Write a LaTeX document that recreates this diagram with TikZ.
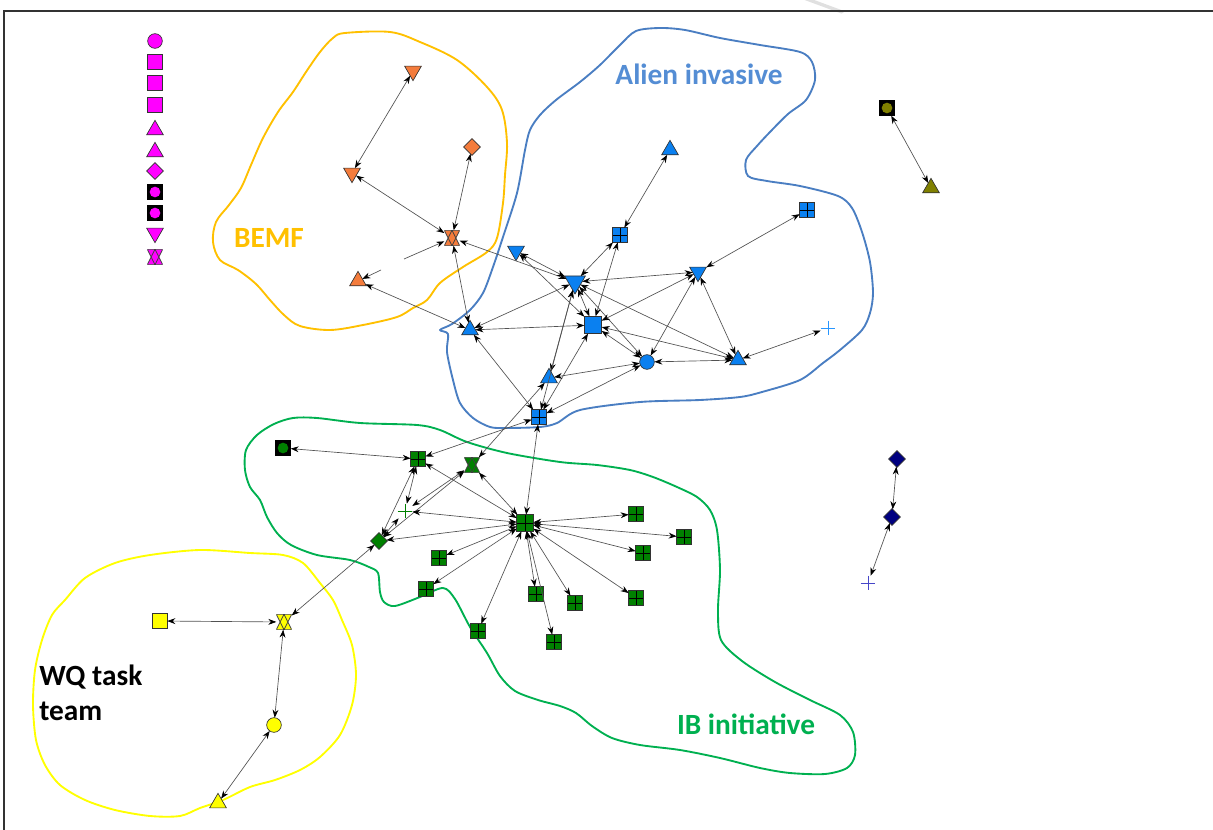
\documentclass[tikz,border=0pt]{standalone}
\usepackage{fontspec}
\setmainfont{Carlito}
\usetikzlibrary{shapes.geometric,arrows.meta}

\definecolor{cMag}{RGB}{255,0,255}
\definecolor{cOrg}{RGB}{244,124,60}
\definecolor{cBlu}{RGB}{10,128,240}
\definecolor{cLtBlu}{RGB}{40,150,255}
\definecolor{cGrn}{RGB}{0,128,0}
\definecolor{cYel}{RGB}{255,255,0}
\definecolor{cOlv}{RGB}{128,128,0}
\definecolor{cNav}{RGB}{0,0,128}
\definecolor{cNavPlus}{RGB}{70,70,200}
\definecolor{hOrg}{RGB}{255,192,0}
\definecolor{hBlu}{RGB}{74,126,194}
\definecolor{tBlu}{RGB}{84,141,212}
\definecolor{hGrn}{RGB}{0,176,80}
\definecolor{hYel}{RGB}{255,255,0}

\begin{document}
\begin{tikzpicture}[x=0.75pt,y=-0.75pt,
  nd/.style={inner sep=0pt, outer sep=0pt, draw=black!80, line width=0.5pt},
  sq/.style={nd, rectangle, minimum size=11pt, fill=#1},
  bigsq/.style={nd, rectangle, minimum size=13pt, fill=#1},
  gsq/.style={nd, rectangle, minimum size=11pt, fill=#1,
    path picture={\draw[black, line width=0.6pt]
      (path picture bounding box.north) -- (path picture bounding box.south)
      (path picture bounding box.west) -- (path picture bounding box.east);}},
  biggsq/.style={gsq=#1, minimum size=12.5pt},
  circ/.style={nd, circle, minimum size=11pt, fill=#1},
  tri/.style={nd, regular polygon, regular polygon sides=3, minimum size=14.5pt, fill=#1},
  vtri/.style={tri=#1, shape border rotate=180},
  bigvtri/.style={vtri=#1, minimum size=18pt},
  dia/.style={nd, diamond, minimum size=12.5pt, fill=#1},
  boxc/.style={rectangle, inner sep=0pt, outer sep=0pt, minimum size=11.5pt, fill=black,
    path picture={\fill[#1] (path picture bounding box.center) circle (4pt);}},
  hglass/.style={rectangle, inner sep=0pt, outer sep=0pt, minimum size=11.5pt,
    path picture={
      \fill[#1] (path picture bounding box.north west) -- (path picture bounding box.north east)
        -- (path picture bounding box.south) -- cycle;
      \fill[#1] (path picture bounding box.south west) -- (path picture bounding box.south east)
        -- (path picture bounding box.north) -- cycle;
      \draw[black!75, line width=0.6pt]
        (path picture bounding box.north west) -- (path picture bounding box.north east)
        -- (path picture bounding box.south) -- cycle
        (path picture bounding box.south west) -- (path picture bounding box.south east)
        -- (path picture bounding box.north) -- cycle;}},
  plusmk/.style={rectangle, inner sep=0pt, outer sep=0pt, minimum size=11pt,
    path picture={\draw[#1, line width=0.7pt]
      (path picture bounding box.north) -- (path picture bounding box.south)
      (path picture bounding box.west) -- (path picture bounding box.east);}},
  lk/.style={draw=black!68, line width=0.5pt,
    {Stealth[length=6pt,width=4.4pt,black]}-{Stealth[length=6pt,width=4.4pt,black]}},
  stub/.style={draw=black!68, line width=0.5pt, -{Stealth[length=6pt,width=4.4pt,black]}},
  hull/.style={line width=1.4pt, line join=round},
  grp/.style={font=\fontsize{22pt}{26pt}\selectfont\bfseries, inner sep=0pt}
]
\useasboundingbox (0,0) rectangle (1213,830);

% frame edges and the faint mark above them
\draw[black!12, line width=2.5pt, line cap=round] (804,-2) -- (842,12);
\draw[black!80, line width=1.1pt] (4,830) -- (4,11) -- (1213,11);

% ---------- group outlines ----------
\draw[hull, hOrg] plot[smooth cycle, tension=0.55] coordinates {
  (345,33) (390,32) (420,42) (457,60) (487,87) (502,110) (507,143) (505,175)
  (503,203) (497,238) (487,252) (463,267) (440,283) (427,300) (413,308)
  (397,317) (363,325) (330,330) (300,326) (284,315) (270,300) (256,284)
  (238,270) (220,260) (213,242) (216,222) (229,205) (241,188) (251,165)
  (263,138) (278,112) (293,92) (306,72) (320,52) (333,38)};

\draw[hull, hBlu] plot[smooth cycle, tension=0.5] coordinates {
  (525,150) (517,193) (503,237) (493,267) (483,293) (470,310) (452,324)
  (440,330) (448,334) (447,352) (453,380) (460,403) (473,418) (490,427)
  (507,428) (540,427) (557,423) (580,410) (640,402) (700,400) (740,397)
  (762,392) (800,380) (823,363) (840,350) (862,330) (870,313) (873,293)
  (870,262) (862,232) (852,208) (838,196) (800,186) (767,181) (748,176)
  (746,160) (757,146) (770,132) (788,114) (806,100) (815,80) (812,62)
  (800,52) (760,45) (720,38) (685,30) (660,28) (636,31) (620,45) (600,65)
  (580,82) (556,100) (540,115) (530,130)};

\draw[hull, hGrn] plot[smooth cycle, tension=0.5] coordinates {
  (293,418) (317,418) (360,423) (417,425) (440,430) (467,442) (507,453)
  (560,462) (597,465) (630,470) (653,477) (677,487) (697,497) (710,510)
  (717,530) (720,570) (718,610) (721,640) (742,661) (775,682) (810,700)
  (840,715) (853,732) (855,755) (847,768) (825,774) (790,773) (760,768)
  (720,758) (680,750) (640,745) (612,738) (592,726) (576,713) (560,706)
  (538,700) (515,691) (500,676) (487,653) (470,627) (455,599) (443,588)
  (420,597) (395,606) (384,602) (380,592) (378,573) (369,567) (350,560)
  (317,555) (291,545) (277,533) (267,517) (260,500) (250,487) (245,470)
  (246,450) (257,435) (274,424)};

\draw[hull, hYel] plot[smooth cycle, tension=0.5] coordinates {
  (65,600) (85,578) (115,563) (150,555) (200,550) (250,553) (283,555)
  (303,563) (320,583) (333,600) (342,620) (352,645) (356,675) (352,705)
  (340,735) (320,757) (300,770) (275,780) (250,787) (223,800) (200,808)
  (180,816) (150,816) (115,810) (85,800) (60,785) (45,765) (36,740)
  (33,705) (35,670) (42,640) (52,615)};

% ---------- group labels ----------
\node[grp, text=hOrg] (lBemf) at (269,238) {BEMF};
\node[grp, text=tBlu] (lAlien) at (699,74) {Alien invasive};
\node[grp, text=hGrn] (lIb) at (746,724) {IB initiative};
\node[grp, text=black, align=left, anchor=west] (lWq) at (39,693) {WQ task\\team};

% ---------- legend column ----------
\node[circ=cMag]   (m1)  at (155,41)  {};
\node[sq=cMag]     (m2)  at (155,62)  {};
\node[sq=cMag]     (m3)  at (155,83)  {};
\node[sq=cMag]     (m4)  at (155,105) {};
\node[tri=cMag]    (m5)  at (155,130) {};
\node[tri=cMag]    (m6)  at (155,152) {};
\node[dia=cMag]    (m7)  at (155,171) {};
\node[boxc=cMag]   (m8)  at (155,192) {};
\node[boxc=cMag]   (m9)  at (155,213) {};
\node[vtri=cMag]   (m10) at (155,233) {};
\node[hglass=cMag] (m11) at (155,257) {};

% ---------- BEMF ----------
\node[vtri=cOrg]   (o1) at (413,71)  {};
\node[vtri=cOrg]   (o2) at (352,173) {};
\node[dia=cOrg]    (o3) at (472,147) {};
\node[hglass=cOrg] (o4) at (452,238) {};
\node[tri=cOrg]    (o5) at (358,281) {};
\coordinate (s4) at (404,259);
\coordinate (s5) at (381,270);

% ---------- Alien invasive ----------
\node[tri=cBlu]     (b1)  at (670,150) {};
\node[gsq=cBlu]     (b2)  at (620,235) {};
\node[vtri=cBlu]    (b3)  at (516,251) {};
\node[bigvtri=cBlu] (b4)  at (575,282) {};
\node[vtri=cBlu]    (b5)  at (698,272) {};
\node[gsq=cBlu]     (b6)  at (807,210) {};
\node[bigsq=cBlu]   (b7)  at (593,325) {};
\node[tri=cBlu]     (b8)  at (470,330) {};
\node[circ=cBlu]    (b9)  at (647,362) {};
\node[tri=cBlu]     (b10) at (738,360) {};
\node[plusmk=cLtBlu] (b11) at (828,328) {};
\node[tri=cBlu]     (b12) at (549,378) {};
\node[gsq=cBlu]     (b13) at (539,417) {};

% ---------- IB initiative ----------
\node[boxc=cGrn]   (g0) at (283,448) {};
\node[gsq=cGrn]    (g1) at (418,459) {};
\node[hglass=cGrn] (g2) at (472,465) {};
\node[dia=cGrn]    (g3) at (379,541) {};
\node[plusmk=cGrn] (gp) at (405,511) {};
\node[biggsq=cGrn] (gc) at (525,523) {};
\node[gsq=cGrn] (p1)  at (636,514) {};
\node[gsq=cGrn] (p2)  at (684,537) {};
\node[gsq=cGrn] (p3)  at (643,553) {};
\node[gsq=cGrn] (p4)  at (439,558) {};
\node[gsq=cGrn] (p5)  at (426,589) {};
\node[gsq=cGrn] (p6)  at (536,594) {};
\node[gsq=cGrn] (p7)  at (575,603) {};
\node[gsq=cGrn] (p8)  at (636,598) {};
\node[gsq=cGrn] (p9)  at (478,631) {};
\node[gsq=cGrn] (p10) at (554,642) {};

% ---------- WQ task team ----------
\node[sq=cYel]     (y1) at (160,621) {};
\node[hglass=cYel] (y2) at (284,622) {};
\node[circ=cYel]   (y3) at (274,725) {};
\node[tri=cYel]    (y4) at (218,803) {};

% ---------- isolated pairs ----------
\node[boxc=cOlv] (v1) at (887,108) {};
\node[tri=cOlv]  (v2) at (931,188) {};
\node[dia=cNav]  (n1) at (897,459) {};
\node[dia=cNav]  (n2) at (892,517) {};
\node[plusmk=cNavPlus] (n3) at (868,583) {};

% ---------- ties ----------
\foreach \a/\b in {o1/o2, o3/o4, o2/o4, o4/b8, o5/b8, o4/b4,
  b1/b2, b6/b5, b11/b10, b2/b4, b2/b7, b3/b4, b3/b7, b4/b5, b4/b8, b4/b7,
  b4/b9, b4/b10, b4/b12, b4/b13, b7/b8, b7/b5, b7/b9, b7/b10, b7/b13,
  b5/b9, b5/b10, b9/b10, b9/b12, b9/b13, b8/b13, b13/g1, b12/g2, b13/gc,
  g0/g1, g1/g3, g1/gp, g2/g3, g2/gp, gp/g3, gc/g1, gc/g2, gc/gp, gc/g3,
  gc/p1, gc/p2, gc/p3, gc/p4, gc/p5, gc/p6, gc/p7, gc/p8, gc/p9, gc/p10,
  g3/y2, y1/y2, y2/y3, y3/y4, v1/v2, n1/n2, n2/n3}
  \draw[lk] (\a) -- (\b);
\draw[stub] (s4) -- (o4);
\draw[stub] (s5) -- (o5);
\end{tikzpicture}
\end{document}
